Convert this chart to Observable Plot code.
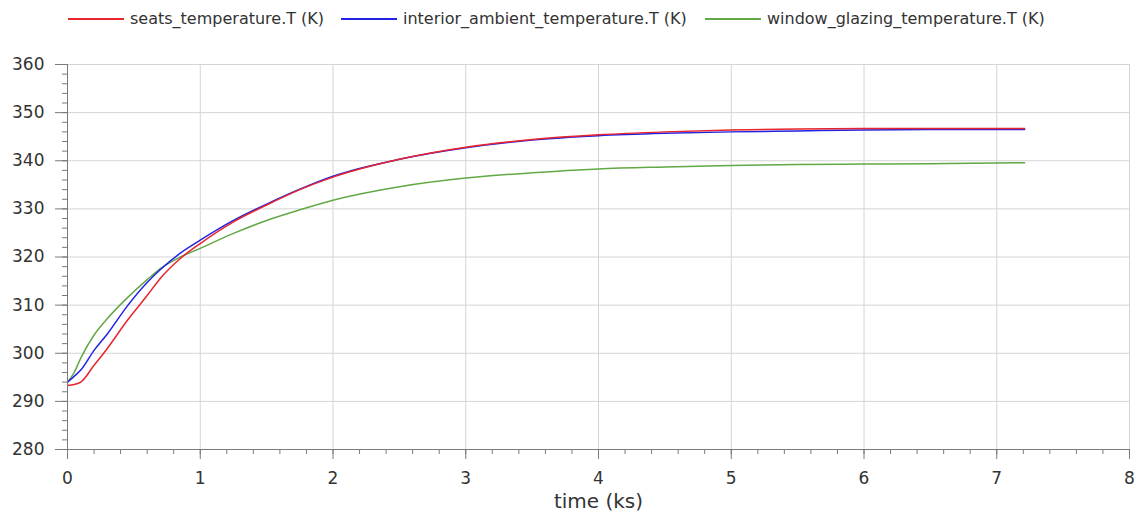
<!DOCTYPE html>
<html>
<head>
<meta charset="utf-8">
<script src="https://cdn.jsdelivr.net/npm/d3@7"></script>
<script src="https://cdn.jsdelivr.net/npm/@observablehq/plot@0.6"></script>
<style>
  body { margin: 0; background: #fff; font-family: "DejaVu Sans", sans-serif; }
  #legend { position: relative; width: 1138px; height: 38px; }
  .item { position: absolute; top: 9px; display: flex; align-items: center; font-size: 16px; color: #333; white-space: nowrap; }
  .swatch { display: inline-block; width: 56px; height: 2px; margin-right: 6px; }
</style>
</head>
<body>
<div id="legend"></div>
<div id="chart"></div>
<script>
const time = [0, 0.05, 0.1, 0.2, 0.3, 0.45, 0.6, 0.7, 0.85, 1.0, 1.25, 1.5, 1.75, 2.0, 2.5, 3.0, 3.5, 4.0, 4.5, 5.0, 5.5, 6.0, 6.5, 7.21];
const seats = [293.3, 293.5, 294.0, 297.5, 301.0, 306.8, 312.0, 315.6, 319.7, 322.8, 327.3, 330.8, 334.0, 336.6, 340.3, 342.8, 344.4, 345.4, 346.0, 346.4, 346.6, 346.7, 346.7, 346.7];
const interior = [294.0, 295.2, 296.5, 300.6, 304.0, 309.8, 314.7, 317.4, 320.8, 323.5, 327.6, 331.0, 334.1, 336.8, 340.3, 342.7, 344.3, 345.2, 345.7, 346.0, 346.2, 346.4, 346.5, 346.5];
const windowGlazing = [294.0, 296.0, 299.0, 303.8, 307.2, 311.5, 315.3, 317.6, 320.0, 321.8, 324.9, 327.6, 329.8, 331.8, 334.6, 336.4, 337.5, 338.3, 338.7, 339.0, 339.2, 339.3, 339.4, 339.6];

const seriesNames = ["seats_temperature.T (K)", "interior_ambient_temperature.T (K)", "window_glazing_temperature.T (K)"];
const seriesColors = ["#e8242c", "#2222e6", "#62a844"];
const seriesValues = [seats, interior, windowGlazing];
const xTicks = [0, 1, 2, 3, 4, 5, 6, 7, 8];
const yTicks = [280, 290, 300, 310, 320, 330, 340, 350, 360];
const xLabel = "time (ks)";

const xMinor = d3.range(0, 8.0001, 0.2);
const yMinor = d3.range(280, 360.0001, 2);

const legendX = [68, 341, 705];
const legend = document.getElementById("legend");
seriesNames.forEach((n, i) => {
  const it = document.createElement("div");
  it.className = "item";
  it.style.left = legendX[i] + "px";
  const sw = document.createElement("span");
  sw.className = "swatch";
  sw.style.background = seriesColors[i];
  const tx = document.createElement("span");
  tx.textContent = n;
  it.appendChild(sw); it.appendChild(tx);
  legend.appendChild(it);
});

const data = [];
seriesValues.forEach((vals, i) => {
  vals.forEach((v, j) => data.push({series: seriesNames[i], t: time[j], v}));
});
const drawOrder = [2, 1, 0];

const chart = Plot.plot({
  width: 1138,
  height: 484,
  marginLeft: 67,
  marginRight: 9,
  marginTop: 26,
  marginBottom: 73,
  style: {fontFamily: "DejaVu Sans, sans-serif", color: "#333", background: "#fff"},
  x: {domain: [0, 8]},
  y: {domain: [280, 360]},
  marks: [
    Plot.gridX(xTicks, {stroke: "#d4d4d4", strokeOpacity: 1}),
    Plot.gridY(yTicks, {stroke: "#d4d4d4", strokeOpacity: 1}),
    Plot.frame({stroke: "#d4d4d4"}),
    ...drawOrder.map(i => Plot.line(data.filter(d => d.series === seriesNames[i]), {
      x: "t", y: "v", stroke: seriesColors[i], strokeWidth: 1.5, curve: "monotone-x"
    })),
    Plot.ruleX([0], {stroke: "#7a7a7a"}),
    Plot.ruleY([280], {stroke: "#7a7a7a"}),
    Plot.axisX(xMinor, {tickSize: 5, tickFormat: () => "", stroke: "#7a7a7a", label: null}),
    Plot.axisX(xTicks, {tickSize: 10, tickPadding: 12, fontSize: 17, tickFormat: d => String(d), stroke: "#7a7a7a", label: null}),
    Plot.axisY(yMinor, {tickSize: 5, tickFormat: () => "", stroke: "#7a7a7a", label: null}),
    Plot.axisY(yTicks, {tickSize: 12, tickPadding: 11, fontSize: 17, tickFormat: d => String(d), stroke: "#7a7a7a", label: null}),
    Plot.text([xLabel], {frameAnchor: "bottom", dy: 58, text: d => d, fontSize: 20, fill: "#333"})
  ]
});
document.getElementById("chart").appendChild(chart);
</script>
</body>
</html>
